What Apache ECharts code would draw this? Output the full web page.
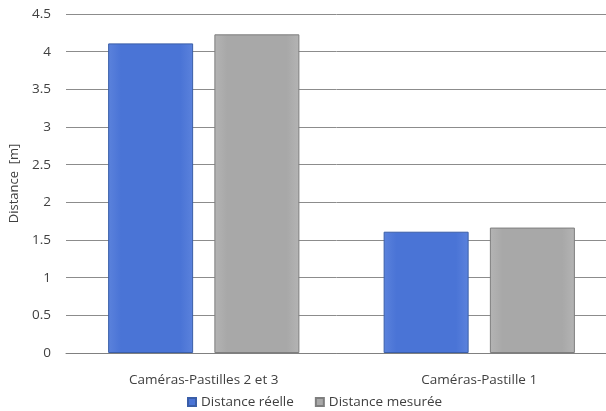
<!DOCTYPE html>
<html><head><meta charset="utf-8">
<script src="https://cdn.jsdelivr.net/npm/echarts@6/dist/echarts.min.js"></script>
<style>html,body{margin:0;padding:0;background:#fff}#c{width:606px;height:411px}</style>
</head><body><div id="c"></div>
<script>
const categories = ['Caméras-Pastilles 2 et 3', 'Caméras-Pastille 1'];
const seriesNames = ['Distance réelle', 'Distance mesurée'];
const reelle = [4.11, 1.61];
const mesuree = [4.23, 1.665];
const yTicks = { min: 0, max: 4.5, interval: 0.5 };

const font = '"Open Sans", "Liberation Sans", sans-serif';
const chart = echarts.init(document.getElementById('c'));
function grad(top, bottom){
  return new echarts.graphic.LinearGradient(0,0,1,0,[
    {offset:0,color:bottom},{offset:0.15,color:top},{offset:0.85,color:top},{offset:1,color:bottom}]);
}
chart.setOption({
  animation: false,
  grid: { left: 66, top: 14, width: 551, height: 339, outerBoundsMode: 'none', containLabel: false },
  legend: {
    bottom: -3, left: 182, itemWidth: 8, itemHeight: 8, itemGap: 21,
    icon: 'rect',
    textStyle: { fontFamily: font, fontSize: 13.5, color: '#404040' },
    data: seriesNames
  },
  xAxis: {
    type: 'category', data: categories,
    axisLine: { lineStyle: { color: '#808080', width: 1 } },
    axisTick: { show: false },
    axisLabel: { fontFamily: font, fontSize: 13.5, color: '#404040', margin: 20 }
  },
  yAxis: {
    type: 'value', min: yTicks.min, max: yTicks.max, interval: yTicks.interval,
    name: 'Distance  [m]', nameLocation: 'middle', nameGap: 40,
    nameTextStyle: { fontFamily: font, fontSize: 13, color: '#404040' },
    axisLine: { show: false }, axisTick: { show: false },
    axisLabel: { fontFamily: font, fontSize: 13.5, color: '#404040', margin: 15 },
    splitLine: { lineStyle: { color: '#8c8c8c', width: 1 } }
  },
  series: [
    { name: seriesNames[0], type: 'bar', data: reelle, barWidth: 85, barGap: '25%',
      itemStyle: { color: grad('#4a74d6', '#5b82dc'), borderColor: '#3a5ea8', borderWidth: 1 } },
    { name: seriesNames[1], type: 'bar', data: mesuree, barWidth: 85,
      itemStyle: { color: grad('#a8a8a8', '#b4b4b4'), borderColor: '#7e7e7e', borderWidth: 1 } }
  ]
});
</script></body></html>
